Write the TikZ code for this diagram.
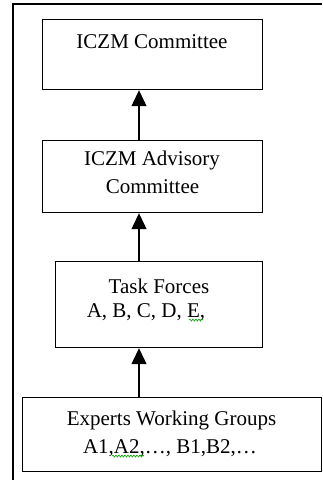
\documentclass[tikz,border=0pt]{standalone}
\usepackage{fontspec}
\setmainfont{Liberation Serif}
\usetikzlibrary{arrows.meta,decorations.pathmorphing}
\begin{document}
\begin{tikzpicture}[x=1pt,y=-1pt,
  box/.style={draw,line width=1.2pt,inner sep=0pt,anchor=north west},
  txt/.style={inner sep=0pt,font=\fontsize{21}{27}\selectfont},
  link/.style={line width=1.2pt,-{Triangle[length=16pt,width=15pt]}},
  squig/.style={green!60!black,line width=0.6pt,decorate,decoration={snake,amplitude=1pt,segment length=3pt}}]
\useasboundingbox (0,0) rectangle (322,480);
% outer frame (only left and top visible)
\draw[line width=1.2pt] (13,480) -- (13,4) -- (322,4);
% boxes
\node[box,minimum width=220pt,minimum height=70pt] (b1) at (42,19) {};
\node[box,minimum width=220pt,minimum height=72pt] (b2) at (42,140) {};
\node[box,minimum width=207pt,minimum height=86pt] (b3) at (55,261) {};
\node[box,minimum width=299pt,minimum height=74pt] (b4) at (22,397) {};
% texts
\node[txt] (t1) at (152,42) {ICZM Committee};
\node[txt] (t2a) at (152,160) {ICZM Advisory};
\node[txt] (t2b) at (152.5,187) {Committee};
\node[txt] (t3a) at (159,286) {Task Forces};
\node[txt] (t3b) at (146,312) {A, B, C, D, E,};
\node[txt] (t4a) at (171.5,420) {Experts Working Groups};
\node[txt] (t4b) at (170,448) {A1,A2,…, B1,B2,…};
% spell-check marks
\coordinate (s1a) at (189,320); \coordinate (s1b) at (203,320);
\coordinate (s2a) at (112,456); \coordinate (s2b) at (144,456);
\draw[squig] (s1a) -- (s1b);
\draw[squig] (s2a) -- (s2b);
% arrows
\coordinate (ax) at (139,0);
\draw[link] (b2.north -| ax) -- (b1.south -| ax);
\draw[link] (b3.north -| ax) -- (b2.south -| ax);
\draw[link] (b4.north -| ax) -- (b3.south -| ax);
\end{tikzpicture}
\end{document}
